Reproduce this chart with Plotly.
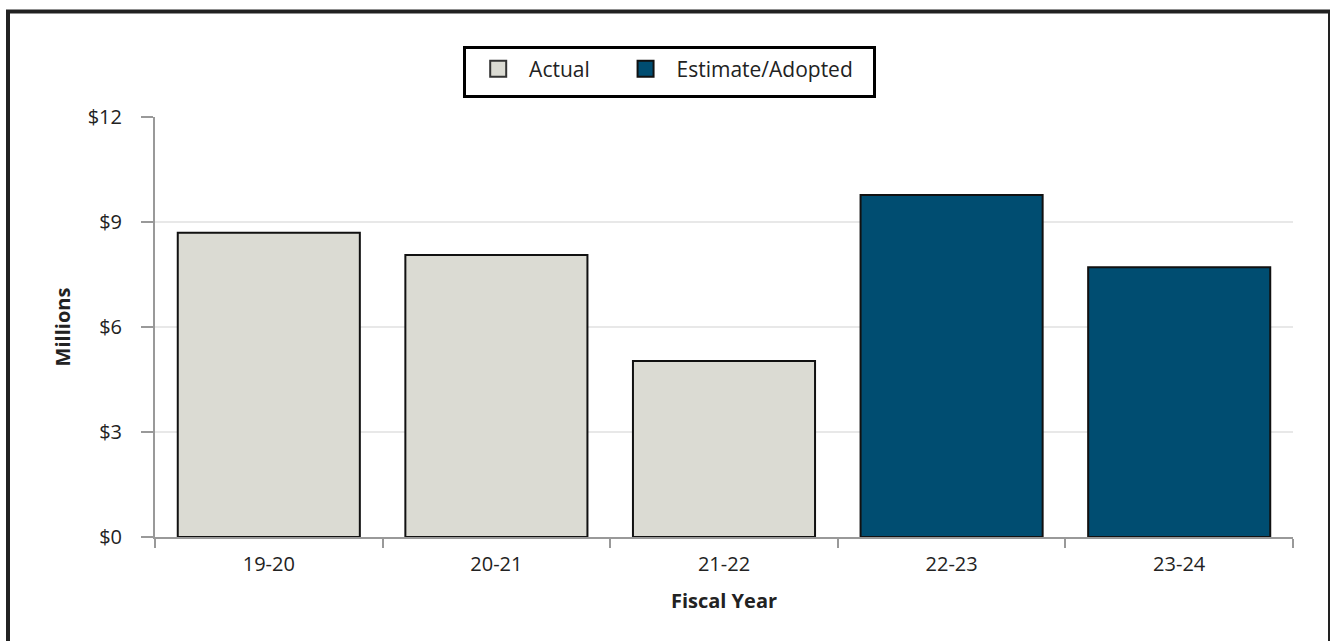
import plotly.graph_objects as go

# values in millions of dollars
years = ["19-20", "20-21", "21-22", "22-23", "23-24"]
actual_years = ["19-20", "20-21", "21-22"]
actual_vals = [8.69, 8.06, 5.03]
estimate_years = ["22-23", "23-24"]
estimate_vals = [9.77, 7.71]
y_ticks = [0, 3, 6, 9, 12]
y_labels = ["$0", "$3", "$6", "$9", "$12"]

FONT = "Open Sans, Noto Sans, sans-serif"
ACTUAL_COLOR = "#dbdbd3"
ESTIMATE_COLOR = "#004d71"
EDGE = "#111111"
NBSP = "\u00a0"
THIN = "\u2009"

# plot area in pixels, used to place the outer frame and legend
W, H = 1330, 641
L, R, T, B = 155, 1293, 117, 537


def px_to_paper(px, py):
    return (px - L) / (R - L), (B - py) / (B - T)


fig = go.Figure()
for xs, ys, name, color in [
    (actual_years, actual_vals, "Actual", ACTUAL_COLOR),
    (estimate_years, estimate_vals, "Estimate/Adopted", ESTIMATE_COLOR),
]:
    fig.add_trace(
        go.Bar(
            x=xs,
            y=ys,
            name=name,
            showlegend=False,
            marker=dict(color=color, line=dict(color=EDGE, width=2)),
        )
    )

# legend entries with bigger square swatches than bar legends give
fig.add_trace(
    go.Scatter(
        x=[None], y=[None], mode="markers",
        name=NBSP * 2 + "Actual" + NBSP * 5 + THIN,
        marker=dict(symbol="square", size=16, color=ACTUAL_COLOR,
                    line=dict(color="#333333", width=2)),
    )
)
fig.add_trace(
    go.Scatter(
        x=[None], y=[None], mode="markers",
        name=NBSP * 2 + "Estimate/Adopted" + NBSP * 2 + THIN,
        marker=dict(symbol="square", size=16, color=ESTIMATE_COLOR,
                    line=dict(color="#111111", width=2)),
    )
)

x0, y0 = px_to_paper(8, 660)
x1, y1 = px_to_paper(1330, 11.5)
fig.add_shape(
    type="rect", xref="paper", yref="paper",
    x0=x0, y0=y0, x1=x1, y1=y1,
    line=dict(color="#222222", width=4),
    layer="below",
)

leg_x, leg_y = px_to_paper(669, 71.5)

fig.update_layout(
    width=W,
    height=H,
    margin=dict(l=L, r=W - R, t=T, b=H - B, pad=0, autoexpand=False),
    plot_bgcolor="white",
    paper_bgcolor="white",
    barmode="overlay",
    bargap=0.2,
    font=dict(family=FONT, size=20, color="#222222"),
    legend=dict(
        orientation="h",
        x=leg_x,
        xanchor="center",
        y=leg_y,
        yanchor="middle",
        bordercolor="black",
        borderwidth=3,
        font=dict(size=21),
        title=dict(text="\u200a", side="left", font=dict(size=27)),
        traceorder="normal",
    ),
    xaxis=dict(
        categoryorder="array",
        categoryarray=years,
        title=dict(text="<b>Fiscal Year</b>", font=dict(size=20), standoff=18),
        showline=True,
        linecolor="#999999",
        linewidth=2,
        ticks="outside",
        tickson="boundaries",
        ticklen=9,
        tickcolor="#999999",
        tickwidth=2,
        ticklabelstandoff=8,
        showgrid=False,
        fixedrange=True,
    ),
    yaxis=dict(
        range=[0, 12],
        tickvals=y_ticks,
        ticktext=y_labels,
        title=dict(text="<b>Millions</b>", font=dict(size=20), standoff=12),
        showline=True,
        linecolor="#999999",
        linewidth=2,
        ticks="outside",
        ticklen=12,
        tickcolor="#999999",
        tickwidth=2,
        ticklabelstandoff=15,
        gridcolor="#e8e8e8",
        gridwidth=2,
        zeroline=False,
        fixedrange=True,
    ),
)

fig.write_html(
    "out.html",
    config={"displayModeBar": False},
    post_script="document.body.style.margin='0';",
)
